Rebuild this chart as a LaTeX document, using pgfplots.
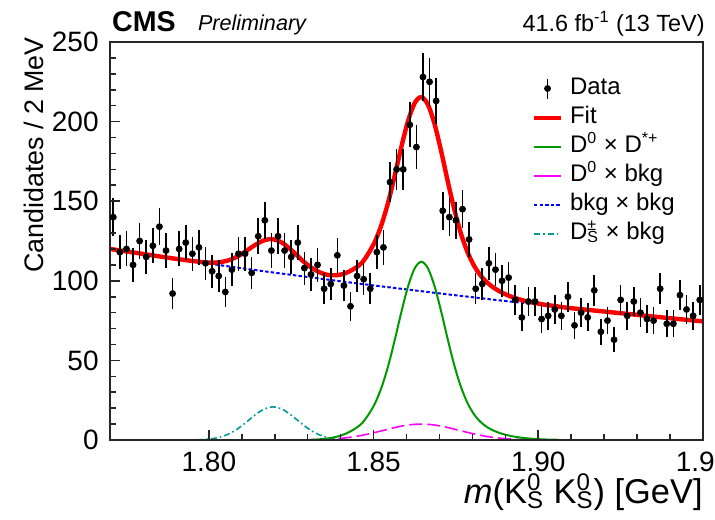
\documentclass[border=0pt]{standalone}
\usepackage{pgfplots}
\pgfplotsset{compat=1.18}
\usepackage{pgfplotstable}
\usepackage{fontspec}
\setmainfont{Liberation Sans}
\definecolor{rootgreen}{rgb}{0,0.6,0}
\definecolor{rootteal}{rgb}{0,0.6,0.6}
\definecolor{rootmagenta}{rgb}{1,0,1}
\definecolor{rootblue}{rgb}{0,0,1}
\definecolor{rootred}{rgb}{1,0,0}

\pgfplotstableread{
x y e
1.771 140 11.8
1.773 118 10.9
1.775 120 11.0
1.777 110 10.5
1.779 125 11.2
1.781 115 10.7
1.783 122 11.0
1.785 134 11.6
1.787 119 10.9
1.789 92 9.6
1.791 120 11.0
1.793 124 11.1
1.795 117 10.8
1.797 121 11.0
1.799 111 10.5
1.801 106 10.3
1.803 103 10.1
1.805 93 9.6
1.807 107 10.3
1.809 117 10.8
1.811 117 10.8
1.813 105 10.2
1.815 128 11.3
1.817 138 11.7
1.819 119 10.9
1.821 128 11.3
1.823 119 10.9
1.825 115 10.7
1.827 124 11.1
1.829 108 10.4
1.831 104 10.2
1.833 110 10.5
1.835 95 9.7
1.837 98 9.9
1.839 116 10.8
1.841 97 9.8
1.843 84 9.2
1.845 103 10.1
1.847 101 10.0
1.849 95 9.7
1.851 118 10.9
1.853 121 11.0
1.855 162 12.7
1.857 170 13.0
1.859 170 13.0
1.861 198 14.1
1.863 184 13.6
1.865 228 15.1
1.867 225 15.0
1.869 213 14.6
1.871 144 12.0
1.873 140 11.8
1.875 138 11.7
1.877 145 12.0
1.879 126 11.2
1.881 95 9.7
1.883 98 9.9
1.885 111 10.5
1.887 107 10.3
1.889 100 10.0
1.891 102 10.1
1.893 88 9.4
1.895 77 8.8
1.897 87 9.3
1.899 87 9.3
1.901 76 8.7
1.903 78 8.8
1.905 82 9.1
1.907 78 8.8
1.909 90 9.5
1.911 72 8.5
1.913 80 8.9
1.915 77 8.8
1.917 94 9.7
1.919 68 8.2
1.921 75 8.7
1.923 63 7.9
1.925 88 9.4
1.927 78 8.8
1.929 87 9.3
1.931 80 8.9
1.933 76 8.7
1.935 75 8.7
1.937 95 9.7
1.939 73 8.5
1.941 73 8.5
1.943 91 9.5
1.945 82 9.1
1.947 78 8.8
1.949 88 9.4
}\datatable

\pgfplotstableread{
x y
1.770 120.0
1.780 116.9
1.790 113.8
1.7985 111.6
1.8005 111.4
1.8025 111.5
1.8045 112.1
1.8065 113.2
1.8085 115.1
1.8105 117.5
1.8125 120.4
1.8145 123.1
1.8165 125.2
1.8185 126.2
1.8205 125.6
1.8225 123.6
1.8245 120.3
1.8265 116.5
1.8285 112.5
1.8305 109.2
1.8325 106.5
1.8345 104.6
1.8365 103.6
1.8385 103.5
1.8405 104.1
1.8425 105.7
1.8445 108.1
1.8465 111.4
1.8485 117.4
1.8505 125.0
1.8525 135.8
1.8545 149.8
1.8565 166.7
1.8585 184.6
1.8605 200.6
1.8625 211.7
1.8645 215.4
1.8665 210.7
1.8685 198.6
1.8705 181.6
1.8725 162.7
1.8745 144.9
1.8765 129.8
1.8785 118.1
1.8805 109.5
1.8825 103.3
1.8845 98.9
1.8865 95.6
1.8885 93.1
1.8905 91.1
1.8925 89.5
1.8945 88.2
1.8965 87.1
1.8985 86.3
1.9005 85.5
1.9025 84.8
1.9045 84.3
1.9065 83.7
1.910 82.8
1.920 80.7
1.930 78.6
1.940 76.5
1.950 74.5
}\fittable

\pgfplotstableread{
x y
1.77 120.0
1.78 116.9
1.79 113.8
1.80 110.8
1.81 107.9
1.82 105.1
1.83 102.4
1.84 99.7
1.85 97.1
1.86 94.6
1.87 92.1
1.88 89.7
1.89 87.3
1.90 85.1
1.91 82.8
1.92 80.7
1.93 78.6
1.94 76.5
1.95 74.5
}\bkgtable

\pgfplotstableread{
x y
1.7965 0.15
1.7985 0.33
1.8005 0.70
1.8025 1.38
1.8045 2.52
1.8065 4.26
1.8085 6.68
1.8105 9.73
1.8125 13.13
1.8145 16.45
1.8165 19.12
1.8185 20.61
1.8195 20.80
1.8205 20.61
1.8225 19.12
1.8245 16.45
1.8265 13.13
1.8285 9.73
1.8305 6.68
1.8325 4.26
1.8345 2.52
1.8365 1.38
1.8385 0.70
1.8405 0.33
1.8425 0.15
}\dstable

\pgfplotstableread{
x y
1.8305 0.1
1.8325 0.3
1.8345 0.6
1.8365 1.1
1.8385 1.9
1.8405 3.1
1.8425 4.9
1.8445 7.3
1.8465 10.5
1.8485 16.1
1.8505 23.3
1.8525 33.5
1.8545 47.0
1.8565 63.4
1.8585 80.9
1.8605 96.7
1.8625 107.9
1.8645 112.0
1.8665 107.9
1.8685 96.7
1.8705 80.9
1.8725 63.4
1.8745 47.0
1.8765 33.5
1.8785 23.3
1.8805 16.1
1.8825 11.3
1.8845 8.04
1.8865 5.83
1.8885 4.25
1.8905 3.09
1.8925 2.20
1.8945 1.56
1.8965 1.08
1.8985 0.73
1.9005 0.48
1.9025 0.31
1.9045 0.20
1.9065 0.13
}\sigtable

\pgfplotstableread{
x y
1.8285 0.07
1.8305 0.13
1.8325 0.21
1.8345 0.33
1.8365 0.52
1.8385 0.78
1.8405 1.13
1.8425 1.60
1.8445 2.20
1.8465 2.94
1.8485 3.80
1.8505 4.77
1.8525 5.80
1.8545 6.85
1.8565 7.85
1.8585 8.73
1.8605 9.41
1.8625 9.85
1.8645 10.0
1.8665 9.85
1.8685 9.41
1.8705 8.73
1.8725 7.85
1.8745 6.85
1.8765 5.80
1.8785 4.77
1.8805 3.80
1.8825 2.94
1.8845 2.20
1.8865 1.60
1.8885 1.13
1.8905 0.78
1.8925 0.52
1.8945 0.33
1.8965 0.21
1.8985 0.13
1.9005 0.07
}\dzbkgtable

\begin{document}
\begin{tikzpicture}
\begin{axis}[
  scale only axis, width=296.5pt, height=199pt,
  xmin=1.77, xmax=1.95, ymin=0, ymax=250,
  axis on top,
  axis line style={line width=1pt, black!85},
  xtick={1.80,1.85,1.90,1.95}, xticklabels={1.80,1.85,1.90,1.9\phantom{5}},
  minor x tick num=4,
  ytick={0,50,100,150,200,250}, minor y tick num=4,
  tick align=inside, xtick pos=bottom, ytick pos=left,
  major tick length=5pt, minor tick length=3pt,
  tick style={line width=0.8pt, black!85},
  /pgf/number format/assume math mode=true,
  tick label style={font=\fontsize{14}{16}\selectfont},
  yticklabel style={inner sep=0pt, xshift=-5.5pt},
  xticklabel style={inner sep=0pt, yshift=-6pt},
  legend style={at={(0.711,0.9206)}, anchor=north west, draw=none, fill=none,
    inner sep=0pt, font=\fontsize{12}{14}\selectfont,
    nodes={inner sep=0pt, text height=10pt, text depth=4.5pt},
    column sep=3.5pt, row sep=0pt},
  legend cell align=left,
]
\addlegendimage{legend image code/.code={\draw[black,line width=0.8pt] (6.75pt,-5pt)--(6.75pt,5pt); \fill[black] (6.75pt,0pt) circle (1.5pt);}}
\addlegendentry{Data}
\addlegendimage{legend image code/.code={\draw[color=rootred, line width=2pt] (0pt,0pt) -- (13.5pt,0pt);}}
\addlegendentry{Fit}
\addlegendimage{legend image code/.code={\draw[color=rootgreen, line width=1pt] (0pt,0pt) -- (13.5pt,0pt);}}
\addlegendentry{D\textsuperscript{0} × D\textsuperscript{*+}}
\addlegendimage{legend image code/.code={\draw[color=rootmagenta, line width=1pt] (0pt,0pt) -- (13.5pt,0pt);}}
\addlegendentry{D\textsuperscript{0} × bkg}
\addlegendimage{legend image code/.code={\draw[color=rootblue, line width=1pt, dash pattern=on 1.7pt off 1.1pt] (0pt,0pt) -- (13.5pt,0pt);}}
\addlegendentry{bkg × bkg}
\addlegendimage{legend image code/.code={\draw[color=rootteal, line width=1pt, dash pattern=on 3pt off 1.5pt on 0.8pt off 1.5pt] (0pt,0pt) -- (13.5pt,0pt);}}
\addlegendentry{D\rlap{\textsuperscript{±}}\textsubscript{S} × bkg}

\addplot[forget plot, color=rootblue, line width=1pt, dash pattern=on 1.7pt off 1.1pt, smooth] table[x=x,y=y] {\bkgtable};
\addplot[forget plot, color=rootteal, line width=0.8pt, dash pattern=on 3pt off 1.5pt on 0.8pt off 1.5pt, smooth] table[x=x,y=y] {\dstable};
\addplot[forget plot, color=rootmagenta, line width=0.8pt, dash pattern=on 6.5pt off 2.5pt, smooth] table[x=x,y=y] {\dzbkgtable};
\addplot[forget plot, color=rootgreen, line width=1pt, smooth] table[x=x,y=y] {\sigtable};
\addplot[forget plot, color=rootred, line width=2.2pt, smooth] table[x=x,y=y] {\fittable};
\addplot[forget plot, only marks, mark=*, mark size=1.5pt, black,
  error bars/.cd, y dir=both, y explicit, error mark=none,
  error bar style={line width=0.8pt, black}]
  table[x=x, y=y, y error=e] {\datatable};
\end{axis}
\node[anchor=base west, inner sep=0pt, font=\bfseries\fontsize{14.3}{16}\selectfont] at ([xshift=0.85pt,yshift=5.2pt]current axis.north west) {CMS};
\node[anchor=base west, inner sep=0pt, font=\itshape\fontsize{10.8}{13}\selectfont] at ([xshift=43.8pt,yshift=6pt]current axis.north west) {Preliminary};
\node[anchor=base east, inner sep=0pt, font=\fontsize{11.7}{14}\selectfont] at ([xshift=1pt,yshift=5.2pt]current axis.north east) {41.6 fb\textsuperscript{-1} (13 TeV)};
\node[anchor=base east, inner sep=0pt, font=\fontsize{17.2}{20}\selectfont] at ([yshift=-31.5pt]current axis.south east) {\textit{m}(K\rlap{\textsuperscript{0}}\textsubscript{S} K\rlap{\textsuperscript{0}}\textsubscript{S}) [GeV]};
\node[rotate=90, anchor=base east, inner sep=0pt, font=\fontsize{13.4}{15}\selectfont] at ([xshift=-33.5pt,yshift=2.5pt]current axis.north west) {Candidates / 2 MeV};
\pgfresetboundingbox
\path[use as bounding box] ([xshift=-55pt,yshift=-39.5pt]current axis.south west) rectangle ([xshift=6pt,yshift=21pt]current axis.north east);
\end{tikzpicture}
\end{document}
